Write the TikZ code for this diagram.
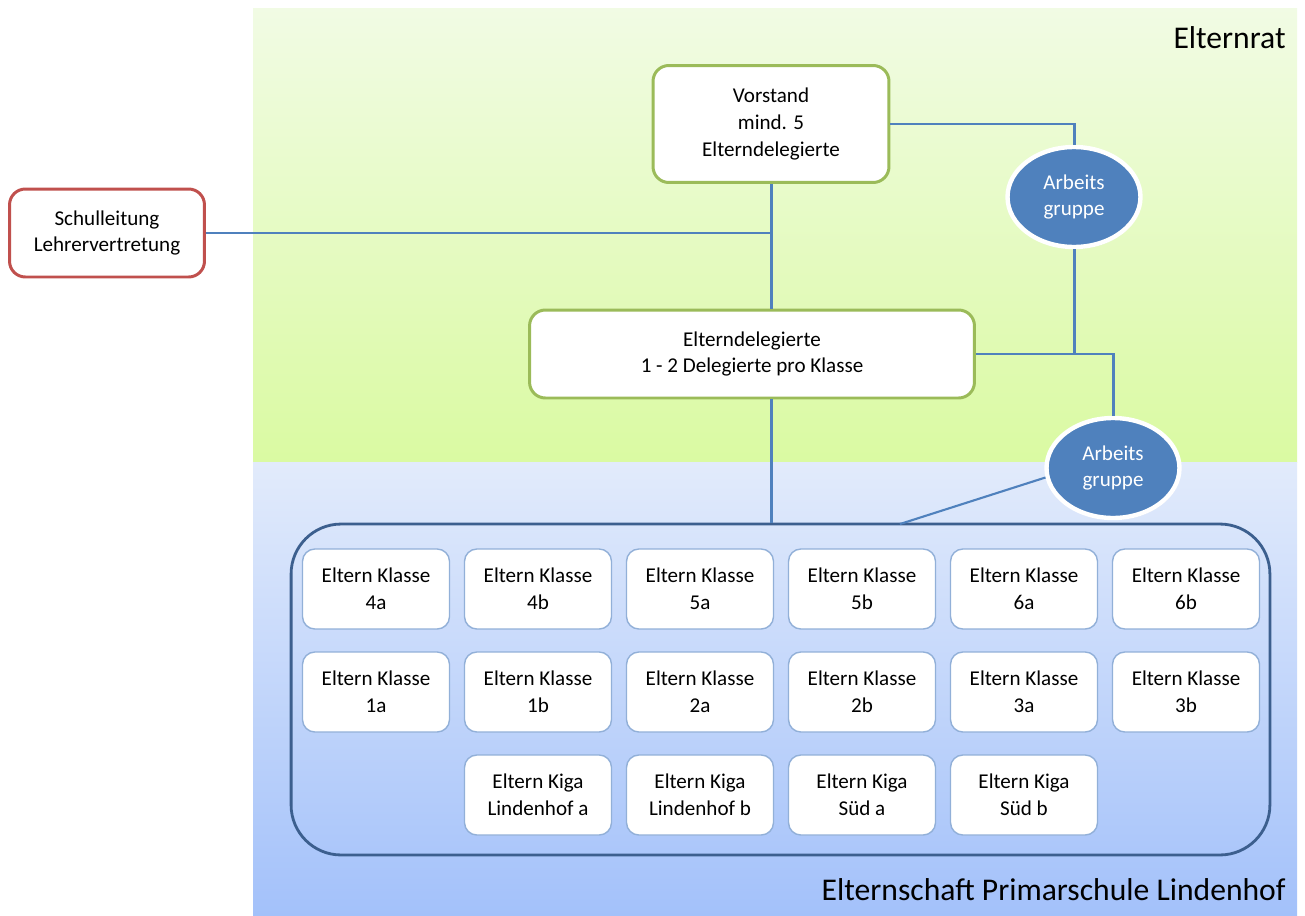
\documentclass[tikz,border=0pt]{standalone}
\usepackage{fontspec}
\setmainfont{Carlito}
\usetikzlibrary{shapes.geometric,shadows}
\definecolor{linkblau}{HTML}{4F81BD}
\definecolor{ratgruen}{HTML}{9BBB59}
\definecolor{schulrot}{HTML}{C0504D}
\definecolor{rahmenblau}{HTML}{3C5F8E}
\definecolor{klassblau}{HTML}{92B0D8}
\definecolor{gruenoben}{HTML}{F1FBE4}
\definecolor{gruenunten}{HTML}{DAFAA2}
\definecolor{blauoben}{HTML}{E2EBFB}
\definecolor{blauunten}{HTML}{A3C1FA}
\tikzset{
  orgbox/.style={draw=#1,line width=1.7pt,fill=white,rounded corners=9pt,align=center,
    font=\fontsize{12}{15.3}\selectfont},
  klasse/.style={draw=klassblau,line width=0.8pt,fill=white,rounded corners=7pt,align=center,
    minimum width=2.94cm,minimum height=1.6cm,font=\fontsize{12}{15.3}\selectfont},
  arbeit/.style={ellipse,fill=linkblau,draw=white,line width=2.5pt,text=white,align=center,
    minimum width=2.66cm,minimum height=2cm,inner sep=0pt,font=\fontsize{12}{15.3}\selectfont,
    drop shadow={opacity=0.25,shadow xshift=0.5pt,shadow yshift=-1pt}},
  link/.style={draw=linkblau,line width=1.7pt},
  titel/.style={anchor=east,inner sep=0pt,font=\fontsize{18}{22}\selectfont}
}
\begin{document}
\begin{tikzpicture}[x=0.02cm,y=-0.02cm]
\useasboundingbox (0,0) rectangle (1305,916);
% Hintergrund
\shade[top color=gruenoben,bottom color=gruenunten] (253,8) rectangle (1297,462);
\shade[top color=blauoben,bottom color=blauunten] (253,462) rectangle (1297,916);
\node[titel] (rat) at (1286,38) {Elternrat};
\node[titel] (schaft) at (1286,890) {Elternschaft Primarschule Lindenhof};
% Elternrat
\node[orgbox=ratgruen,minimum width=4.72cm,minimum height=2.34cm] (vorstand) at (771,124) {Vorstand\\mind. 5\\Elterndelegierte};
\node[orgbox=ratgruen,minimum width=8.9cm,minimum height=1.76cm] (deleg) at (752,354) {Elterndelegierte\\1 - 2 Delegierte pro Klasse};
\node[orgbox=schulrot,minimum width=3.9cm,minimum height=1.76cm] (schule) at (107,233) {Schulleitung\\Lehrervertretung};
\node[arbeit] (ag1) at (1074,197) {Arbeits\\gruppe};
\node[arbeit] (ag2) at (1113,468) {Arbeits\\gruppe};
% Elternschaft
\node[draw=rahmenblau,line width=1.6pt,rounded corners=1cm,minimum width=19.58cm,minimum height=6.62cm] (eltern) at (780.5,689.5) {};
\foreach \k [count=\i] in {4a,4b,5a,5b,6a,6b}
  \node[klasse] (k\k) at ({214+162*\i},589) {Eltern Klasse\\\k};
\foreach \k [count=\i] in {1a,1b,2a,2b,3a,3b}
  \node[klasse] (k\k) at ({214+162*\i},692) {Eltern Klasse\\\k};
\foreach \g/\n [count=\i] in {Lindenhof a/kiga1,Lindenhof b/kiga2,Süd a/kiga3,Süd b/kiga4}
  \node[klasse] (\n) at ({376+162*\i},795) {Eltern Kiga\\\g};
% Verbindungen
\coordinate (ecke) at (900,524);
\draw[link] (vorstand.south) -- (vorstand.south |- deleg.north);
\draw[link] (schule.east) -- (schule.east -| vorstand.south);
\draw[link] (vorstand.east) -| (ag1.north);
\draw[link] (ag1.south) -- (ag1.south |- deleg.east);
\draw[link] (deleg.east) -| (ag2.north);
\draw[link] (deleg.south -| vorstand.south) -- (eltern.north -| vorstand.south);
\draw[link,line width=1.2pt] (ag2.188) -- (ecke);
\end{tikzpicture}
\end{document}
